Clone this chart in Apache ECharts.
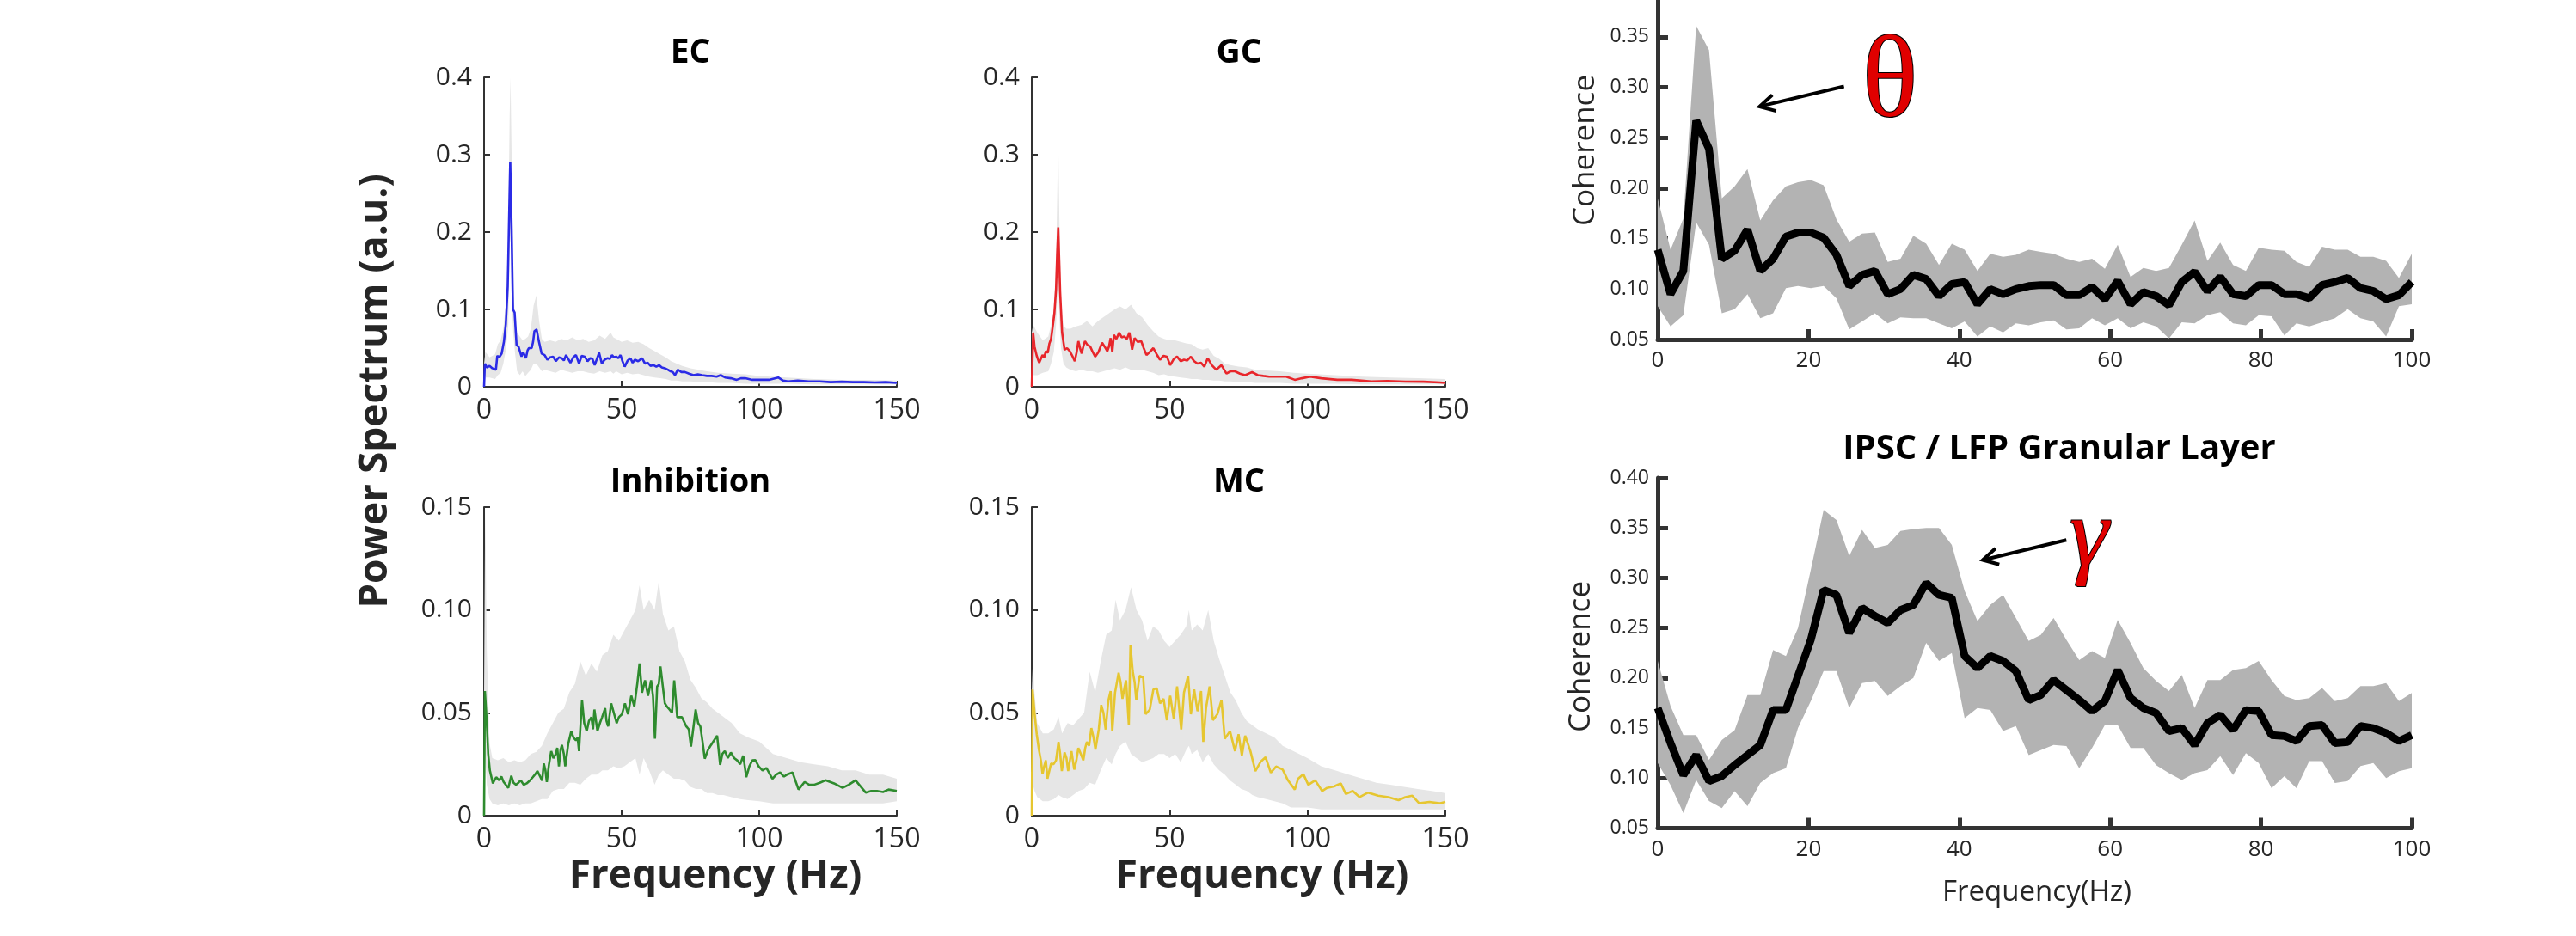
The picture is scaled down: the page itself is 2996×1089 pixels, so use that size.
<!DOCTYPE html>
<html>
<head>
<meta charset="utf-8">
<script src="https://cdn.jsdelivr.net/npm/echarts@6/dist/echarts.min.js"></script>
<style>html,body{margin:0;padding:0;background:#fff}#c{width:2996px;height:1089px}</style>
</head>
<body>
<div id="c"></div>
<script>
// ---------------- DATA ----------------
const spectrumTicksX = [0, 50, 100, 150];
const cohTicksX = [0, 20, 40, 60, 80, 100];

// EC
const ecFreq = [0,0.3,1,2,3,4.3,4.8,5.5,6.4,7.2,7.9,8.6,9.1,9.5,10,10.5,11.1,11.8,12.5,13.1,13.6,14.2,14.7,15.2,15.8,16.3,17.3,17.8,18.3,19.1,19.9,20.9,22,23,24,25.1,26.1,27.2,28.2,29,29.8,30.6,31.4,32.4,33.4,34.5,35.5,36.6,37.6,38.6,39.4,40.2,41,41.8,42.8,43.8,44.9,45.7,46.5,47.2,48,48.8,49.6,50.3,51.1,52.2,53.2,54,54.8,56,57.4,58.5,59.5,60.5,61.6,62.6,63.6,64.6,65.7,66.8,67.8,68.6,69.4,70.4,71.7,73,74.5,76.1,77.7,79.3,81,82.7,84.5,86,87.6,89.7,91.8,93.3,94.9,97.5,100.1,103.5,106.9,108.7,110.5,114,118,122,126,130,134,138,142,146,150];
const ecMean = [0,0.030,0.025,0.027,0.024,0.022,0.040,0.038,0.043,0.058,0.081,0.13,0.22,0.291,0.204,0.10,0.096,0.054,0.052,0.05,0.039,0.045,0.046,0.037,0.047,0.050,0.050,0.058,0.072,0.074,0.059,0.043,0.041,0.035,0.038,0.039,0.033,0.038,0.037,0.034,0.041,0.036,0.031,0.038,0.041,0.030,0.040,0.039,0.033,0.037,0.036,0.028,0.036,0.044,0.030,0.035,0.037,0.036,0.041,0.038,0.039,0.037,0.041,0.033,0.026,0.034,0.037,0.031,0.035,0.033,0.037,0.030,0.031,0.027,0.028,0.026,0.028,0.025,0.024,0.022,0.020,0.019,0.015,0.022,0.019,0.019,0.017,0.015,0.016,0.015,0.014,0.014,0.013,0.015,0.012,0.011,0.009,0.011,0.011,0.009,0.009,0.009,0.012,0.008,0.007,0.008,0.007,0.007,0.006,0.0065,0.006,0.006,0.0055,0.006,0.005];
const ecBandFreq = [0,0.5,2,4,5,6,7,8,8.8,9.3,9.6,10,10.6,11.2,12,13,14,15,16,17,18,19,20,21,22,24,26,28,30,32,34,36,38,40,42,44,46,47,48,50,52,54,56,58,60,62,64,66,68,70,72,75,78,81,85,90,95,100,110,120,130,140,150];
const ecUpper = [0.03,0.045,0.038,0.042,0.055,0.06,0.075,0.11,0.2,0.35,0.40,0.30,0.13,0.09,0.07,0.065,0.06,0.062,0.065,0.075,0.105,0.118,0.085,0.062,0.058,0.06,0.058,0.062,0.06,0.064,0.06,0.062,0.058,0.06,0.066,0.062,0.07,0.064,0.062,0.058,0.06,0.057,0.058,0.055,0.05,0.046,0.042,0.038,0.033,0.03,0.027,0.024,0.022,0.02,0.018,0.017,0.016,0.014,0.012,0.01,0.009,0.009,0.008];
const ecLower = [0,0.012,0.012,0.01,0.015,0.018,0.03,0.05,0.08,0.18,0.2,0.12,0.07,0.045,0.02,0.015,0.02,0.014,0.018,0.022,0.03,0.03,0.025,0.02,0.022,0.02,0.018,0.022,0.02,0.018,0.02,0.02,0.018,0.017,0.02,0.018,0.02,0.017,0.02,0.016,0.018,0.016,0.017,0.015,0.013,0.012,0.011,0.01,0.008,0.008,0.007,0.007,0.006,0.006,0.005,0.005,0.004,0.004,0.004,0.003,0.003,0.003,0.003];

// GC
const gcFreq = [0,0.5,1,1.8,2.7,3.3,3.9,4.5,5.1,5.8,6.4,7,7.6,8.2,8.8,9.2,9.6,10.3,11,11.9,12.8,13.8,14.7,15.6,16.3,16.9,17.5,18.1,18.7,19.3,20.2,21.2,22.1,23,24.2,25.5,26.4,27.4,28,28.6,29.2,29.8,30.7,31.7,32.6,33.5,34.5,35.4,36.4,37.3,38.5,39.7,40.6,41.6,42.8,44.1,45.3,46.5,47.8,49,50.2,51.5,52.7,54,55.2,56.4,57.7,58.9,60.1,61.4,62.6,63.8,65.3,66.9,68.8,70.6,72.1,73.7,75.5,77.4,79.9,82,84,86.1,89,92.3,95.4,98,100.9,105,110.8,116,123.2,129,135.5,142,148,150];
const gcMean = [0,0.070,0.052,0.04,0.031,0.036,0.041,0.038,0.046,0.044,0.056,0.062,0.078,0.095,0.126,0.17,0.206,0.122,0.070,0.048,0.05,0.046,0.04,0.033,0.045,0.059,0.05,0.043,0.052,0.059,0.054,0.052,0.045,0.039,0.045,0.057,0.052,0.046,0.052,0.063,0.045,0.067,0.062,0.070,0.064,0.065,0.062,0.070,0.048,0.063,0.058,0.059,0.05,0.041,0.045,0.05,0.042,0.035,0.04,0.039,0.028,0.036,0.039,0.033,0.035,0.034,0.039,0.033,0.030,0.031,0.026,0.037,0.028,0.022,0.028,0.017,0.02,0.020,0.017,0.015,0.019,0.015,0.014,0.013,0.013,0.013,0.009,0.011,0.013,0.011,0.009,0.009,0.007,0.0075,0.0067,0.0065,0.0056,0.005];
const gcBandFreq = [0,0.5,2,4,6,7,8,8.8,9.3,9.6,10,10.6,11.5,12.5,14,16,18,20,22,24,26,28,30,32,34,36,38,40,42,44,46,48,50,52,54,56,58,60,62,64,66,68,70,72,75,78,81,85,90,95,100,110,120,130,140,150];
const gcUpper = [0.07,0.08,0.07,0.06,0.065,0.08,0.1,0.16,0.26,0.318,0.22,0.11,0.08,0.075,0.075,0.078,0.08,0.085,0.078,0.085,0.09,0.095,0.1,0.104,0.1,0.106,0.095,0.09,0.08,0.072,0.065,0.062,0.06,0.06,0.058,0.056,0.055,0.05,0.048,0.05,0.04,0.036,0.03,0.028,0.026,0.025,0.022,0.021,0.02,0.018,0.017,0.015,0.013,0.012,0.011,0.01];
const gcLower = [0,0.015,0.015,0.018,0.02,0.03,0.045,0.08,0.12,0.144,0.09,0.05,0.03,0.025,0.022,0.02,0.022,0.02,0.02,0.018,0.02,0.022,0.024,0.022,0.025,0.022,0.022,0.022,0.02,0.018,0.015,0.016,0.014,0.013,0.012,0.011,0.01,0.01,0.009,0.009,0.008,0.008,0.007,0.007,0.006,0.006,0.005,0.005,0.005,0.004,0.004,0.004,0.003,0.003,0.003,0.003];

// Inhibition
const inFreq = [0,0.3,1,1.5,2.1,3.2,4.4,5.5,6.3,7.1,8.8,9.9,10.7,11.6,12.5,13.3,14.4,15.5,16.6,17.7,18.5,19.4,20.5,21.1,21.7,22.3,22.8,23.6,24.4,25.2,26.1,26.6,27.2,27.8,28.3,29.0,29.5,30.6,31.7,32.5,33.4,34.0,34.5,35.6,36.4,37.3,38.1,39,39.6,40.1,41.2,42.1,42.9,44,44.5,45.1,46.2,47.3,48.2,49,50.1,51.2,52.3,53.5,54.6,55.7,56.5,57.4,58.5,59.6,60.7,61.4,62.1,62.9,63.5,64.1,65.7,66.5,67.4,68.3,69.1,70.2,71.9,73.5,74.4,75.2,76.9,77.8,78.6,79.4,80.2,81.4,82.5,84.7,85.8,86.6,87.5,88.6,89.7,90.9,92,93.1,94.2,95.3,96.4,97.5,98.6,99.8,101.2,102.6,104.8,106.2,107.6,109,110.4,112.1,114.3,116.5,118.2,119.9,122,124.1,127.2,130.3,132.5,135,138.7,140.7,142.8,145,147,150];
const inMean = [0,0.0606,0.045,0.030,0.022,0.0157,0.0187,0.0172,0.019,0.0164,0.0135,0.0194,0.016,0.015,0.016,0.0172,0.015,0.0157,0.017,0.0187,0.02,0.0217,0.0187,0.017,0.0254,0.022,0.0164,0.025,0.0314,0.028,0.030,0.033,0.024,0.032,0.0344,0.03,0.024,0.035,0.0411,0.038,0.0366,0.038,0.0314,0.0561,0.045,0.0411,0.046,0.0479,0.042,0.0516,0.0411,0.045,0.0479,0.0523,0.046,0.0434,0.0546,0.0493,0.045,0.0479,0.0493,0.0546,0.0493,0.0583,0.0531,0.0643,0.074,0.0598,0.0658,0.0583,0.0658,0.058,0.0374,0.0628,0.064,0.0725,0.0546,0.053,0.0516,0.05,0.0658,0.0479,0.0479,0.0434,0.042,0.0336,0.0516,0.045,0.0434,0.036,0.0277,0.032,0.0344,0.0389,0.0247,0.03,0.0314,0.028,0.0307,0.028,0.0269,0.025,0.0292,0.0187,0.024,0.0269,0.027,0.024,0.022,0.0232,0.0179,0.02,0.021,0.019,0.0202,0.021,0.0127,0.0164,0.015,0.015,0.016,0.0172,0.0157,0.0135,0.015,0.0172,0.0112,0.012,0.012,0.0115,0.0127,0.012];
const inBandFreq = [0,0.4,1,2,3,5,7,9,11,13,15,17,19,21,23,25,27,29,31,33,35,37,39,41,43,45,47,49,51,53,55,56.5,58,60,62,63.5,65,67,69,71,73,75,77,79,81,83,85,87,90,93,96,100,105,110,115,120,125,130,135,140,145,150];
const inUpper = [0.06,0.15,0.08,0.035,0.028,0.027,0.028,0.026,0.027,0.026,0.027,0.03,0.031,0.034,0.04,0.045,0.05,0.052,0.06,0.064,0.075,0.068,0.074,0.07,0.078,0.08,0.088,0.085,0.09,0.095,0.1,0.112,0.1,0.105,0.1,0.114,0.098,0.09,0.092,0.08,0.075,0.066,0.062,0.057,0.055,0.052,0.05,0.048,0.045,0.04,0.038,0.036,0.03,0.028,0.026,0.025,0.024,0.022,0.022,0.02,0.02,0.018];
const inLower = [0,0.03,0.015,0.008,0.006,0.005,0.006,0.005,0.006,0.005,0.006,0.006,0.007,0.008,0.008,0.012,0.013,0.013,0.016,0.016,0.015,0.018,0.02,0.02,0.022,0.022,0.024,0.023,0.024,0.026,0.028,0.02,0.028,0.022,0.015,0.02,0.022,0.02,0.018,0.018,0.017,0.014,0.013,0.013,0.011,0.011,0.01,0.01,0.009,0.008,0.0075,0.007,0.006,0.006,0.006,0.006,0.006,0.006,0.006,0.006,0.006,0.007];

// MC
const mcFreq = [0,0.3,1,1.8,2.6,3.3,3.9,4.5,5.1,5.7,6.4,7,7.9,8.8,9.7,10.3,10.9,11.9,12.6,13.2,14.4,15.4,16.2,16.9,17.8,18.7,19.4,20,20.8,21.6,22.4,23.1,24.3,25.2,26,26.8,27.8,28.6,29.2,30.2,31.5,32.2,32.9,33.6,34.2,35.2,35.8,36.6,37.3,37.9,39.1,40.4,41.3,42.8,44.1,45.3,46.5,47.8,49,50.2,51.5,52.7,54.2,55.2,56.7,57.7,58.9,60.1,61.4,62.2,63.2,64.5,65.7,67.3,68.8,70,71.9,73.7,75,76.2,77.4,79.3,81.1,83,84.8,86.7,88.6,91,92.9,95.4,96.6,98.5,100.3,102.8,105.3,107.1,109.6,112.1,113.9,116.4,118.9,122,125.6,129.4,133,135.5,138,140.5,144.2,147.9,150];
const mcMean = [0,0.0613,0.05,0.0396,0.032,0.0269,0.0202,0.024,0.0269,0.018,0.022,0.0254,0.025,0.0269,0.0359,0.03,0.0217,0.0307,0.028,0.0217,0.0314,0.0224,0.027,0.0329,0.03,0.0269,0.033,0.0359,0.034,0.0426,0.038,0.0322,0.0419,0.0538,0.05,0.0419,0.0561,0.0606,0.0411,0.0598,0.0695,0.065,0.0568,0.062,0.0658,0.0441,0.083,0.0703,0.065,0.0561,0.068,0.0673,0.0493,0.0516,0.0613,0.062,0.0546,0.0568,0.0464,0.0583,0.0471,0.0628,0.0419,0.0598,0.068,0.0493,0.0613,0.0508,0.0606,0.0359,0.0523,0.0628,0.0464,0.0493,0.0561,0.0374,0.0411,0.0314,0.0396,0.0292,0.0389,0.0314,0.0217,0.0262,0.0284,0.0209,0.0239,0.0224,0.0172,0.0127,0.018,0.0202,0.015,0.0172,0.012,0.0135,0.0142,0.0157,0.0105,0.012,0.009,0.0112,0.0097,0.009,0.0075,0.009,0.0097,0.006,0.0067,0.006,0.0067];
const mcBandFreq = [0,0.4,1,2,4,6,8,9.7,11,13,15,17,19,21,23,25,27,29,30.4,32,34,36,38,40,42,44,46,48,50,52,54,56,57,58,60,62,64,66,68,70,72,74,76,78,80,82,85,88,91,94,97,100,105,110,115,120,125,130,135,140,145,150];
const mcUpper = [0.06,0.075,0.06,0.045,0.04,0.04,0.042,0.048,0.04,0.045,0.044,0.047,0.05,0.07,0.06,0.075,0.088,0.09,0.105,0.095,0.1,0.111,0.1,0.095,0.085,0.092,0.09,0.085,0.082,0.085,0.088,0.092,0.1,0.09,0.093,0.09,0.1,0.085,0.076,0.068,0.06,0.056,0.05,0.046,0.044,0.042,0.04,0.038,0.034,0.032,0.03,0.028,0.024,0.022,0.02,0.018,0.016,0.015,0.014,0.013,0.012,0.011];
const mcLower = [0,0.015,0.012,0.009,0.007,0.007,0.008,0.01,0.009,0.008,0.01,0.012,0.013,0.016,0.015,0.022,0.028,0.025,0.03,0.034,0.036,0.03,0.028,0.026,0.027,0.028,0.03,0.03,0.028,0.03,0.026,0.032,0.034,0.03,0.032,0.026,0.03,0.025,0.022,0.02,0.017,0.015,0.013,0.012,0.01,0.009,0.008,0.007,0.006,0.004,0.004,0.004,0.003,0.003,0.003,0.003,0.003,0.003,0.003,0.003,0.003,0.003];

// Coherence (both panels share frequency sampling)
const cohFreq = [0,1.7,3.4,5.1,6.8,8.5,10.2,11.9,13.6,15.3,17,18.6,20.3,22,23.7,25.4,27.1,28.8,30.5,32.2,33.9,35.6,37.3,39,40.7,42.4,44.1,45.8,47.5,49.2,50.8,52.5,54.2,55.9,57.6,59.3,61,62.7,64.4,66.1,67.8,69.5,71.2,72.9,74.6,76.3,78,79.7,81.4,83.1,84.7,86.4,88.1,89.8,91.5,93.2,94.9,96.6,98.3,100];
const thetaMean = [0.139,0.095,0.118,0.267,0.239,0.130,0.138,0.159,0.118,0.130,0.152,0.156,0.156,0.151,0.134,0.103,0.114,0.118,0.095,0.100,0.114,0.110,0.093,0.105,0.107,0.085,0.100,0.095,0.100,0.103,0.104,0.104,0.094,0.094,0.102,0.090,0.108,0.085,0.097,0.093,0.084,0.107,0.117,0.098,0.112,0.095,0.093,0.104,0.104,0.095,0.095,0.091,0.104,0.107,0.111,0.101,0.098,0.090,0.094,0.107];
const thetaUpper = [0.190,0.139,0.170,0.361,0.337,0.190,0.202,0.219,0.168,0.188,0.202,0.206,0.208,0.203,0.169,0.147,0.155,0.156,0.127,0.130,0.153,0.145,0.124,0.145,0.139,0.118,0.135,0.132,0.134,0.139,0.137,0.135,0.130,0.127,0.130,0.120,0.144,0.112,0.121,0.118,0.121,0.144,0.168,0.128,0.146,0.124,0.118,0.141,0.139,0.138,0.127,0.122,0.142,0.139,0.139,0.132,0.132,0.128,0.111,0.135];
const thetaLower = [0.083,0.063,0.074,0.166,0.144,0.076,0.080,0.095,0.071,0.076,0.101,0.103,0.101,0.103,0.091,0.060,0.068,0.076,0.066,0.072,0.071,0.071,0.066,0.061,0.068,0.053,0.063,0.057,0.066,0.064,0.067,0.069,0.060,0.061,0.071,0.064,0.071,0.061,0.067,0.063,0.051,0.067,0.066,0.074,0.077,0.066,0.064,0.074,0.073,0.054,0.066,0.063,0.067,0.071,0.080,0.071,0.068,0.053,0.083,0.085];
const gammaMean = [0.170,0.135,0.103,0.123,0.097,0.102,0.113,0.123,0.133,0.168,0.168,0.202,0.238,0.288,0.283,0.245,0.270,0.262,0.255,0.268,0.273,0.295,0.283,0.280,0.222,0.210,0.222,0.217,0.207,0.178,0.183,0.198,0.188,0.178,0.167,0.177,0.208,0.180,0.170,0.165,0.147,0.150,0.133,0.155,0.163,0.148,0.168,0.167,0.143,0.142,0.137,0.152,0.153,0.135,0.136,0.152,0.150,0.145,0.137,0.143];
const gammaUpper = [0.217,0.172,0.143,0.143,0.118,0.138,0.148,0.183,0.183,0.228,0.222,0.250,0.308,0.368,0.358,0.322,0.348,0.330,0.333,0.347,0.349,0.350,0.350,0.333,0.287,0.257,0.273,0.283,0.260,0.237,0.243,0.260,0.238,0.218,0.227,0.220,0.258,0.235,0.210,0.197,0.187,0.203,0.170,0.198,0.198,0.208,0.210,0.217,0.198,0.182,0.178,0.180,0.190,0.177,0.180,0.192,0.192,0.195,0.177,0.185];
const gammaLower = [0.115,0.093,0.065,0.098,0.077,0.070,0.087,0.072,0.095,0.105,0.110,0.150,0.177,0.207,0.207,0.170,0.195,0.197,0.182,0.192,0.200,0.235,0.217,0.225,0.160,0.170,0.168,0.147,0.152,0.123,0.128,0.133,0.132,0.110,0.130,0.153,0.153,0.130,0.130,0.113,0.105,0.098,0.105,0.108,0.122,0.103,0.125,0.115,0.090,0.102,0.090,0.117,0.117,0.095,0.097,0.112,0.115,0.100,0.107,0.110];

// annotation anchors (data coordinates)
const thetaArrow = {from:[24.7, 0.301], to:[13.5, 0.281], label:[30.8, 0.302]};
const gammaArrow = {from:[54.2, 0.338], to:[43.1, 0.318], label:[57.2, 0.338]};

// ---------------- CHART ----------------
const chart = echarts.init(document.getElementById('c'), null, {renderer:'canvas', width:2996, height:1089});
const zip = (a, b) => a.map((x, i) => [x, b[i]]);
const FONT = 'Open Sans';
const AX = '#333';
const TXT = '#262626';

const grids = [
  {left:563, top:90, width:480, height:360},
  {left:1200, top:90, width:481, height:360},
  {left:563, top:590, width:480, height:359},
  {left:1200, top:590, width:481, height:359},
  {left:1928, top:0, width:877, height:395},
  {left:1928, top:556, width:877, height:407.5}
];

function specX(gi){
  return {type:'value', gridIndex:gi, min:0, max:150, interval:50,
    axisLine:{show:true, onZero:false, lineStyle:{color:AX, width:2}},
    axisTick:{show:true, inside:true, length:7, lineStyle:{color:AX, width:2}},
    axisLabel:{fontSize:32, color:TXT, fontFamily:FONT, margin:12},
    splitLine:{show:false}};
}
function specY(gi, max, interval, dec){
  return {type:'value', gridIndex:gi, min:0, max:max, interval:interval,
    axisLine:{show:true, onZero:false, lineStyle:{color:AX, width:2}},
    axisTick:{show:true, inside:true, length:7, lineStyle:{color:AX, width:2}},
    axisLabel:{fontSize:30, color:TXT, fontFamily:FONT, margin:14,
      formatter: v => (Math.abs(v) < 1e-9 ? '0' : v.toFixed(dec))},
    splitLine:{show:false}};
}
function cohX(gi){
  return {type:'value', gridIndex:gi, min:0, max:100, interval:20,
    axisLine:{show:true, onZero:false, lineStyle:{color:AX, width:5}},
    axisTick:{show:true, inside:true, length:12, lineStyle:{color:AX, width:5}},
    axisLabel:{fontSize:26, color:TXT, fontFamily:FONT, margin:12},
    splitLine:{show:false}};
}
function cohY(gi, max){
  return {type:'value', gridIndex:gi, min:0.05, max:max, interval:0.05,
    axisLine:{show:true, onZero:false, lineStyle:{color:AX, width:5}},
    axisTick:{show:true, inside:true, length:12, lineStyle:{color:AX, width:5}},
    axisLabel:{fontSize:23, color:TXT, fontFamily:FONT, margin:10, showMaxLabel:false,
      formatter: v => (Math.abs(v / 0.05 - Math.round(v / 0.05)) < 1e-6 ? v.toFixed(2) : '')},
    splitLine:{show:false}};
}

function band(gi, freq, up, lo, color){
  return {type:'custom', xAxisIndex:gi, yAxisIndex:gi, silent:true, z:1, clip:true,
    data:[[freq[0], lo[0]]],
    renderItem: function(params, api){
      const pts = [];
      for (let i = 0; i < freq.length; i++) pts.push(api.coord([freq[i], up[i]]));
      for (let i = freq.length - 1; i >= 0; i--) pts.push(api.coord([freq[i], lo[i]]));
      return {type:'polygon', shape:{points:pts}, style:{fill:color, stroke:null}};
    }};
}
function line(gi, freq, vals, color, width){
  return {type:'line', xAxisIndex:gi, yAxisIndex:gi, data:zip(freq, vals), showSymbol:false, symbol:'none',
    lineStyle:{color:color, width:width}, z:3, silent:true};
}

const BAND = '#e6e6e6';
const option = {
  animation:false,
  backgroundColor:'#ffffff',
  grid: grids,
  xAxis: [specX(0), specX(1), specX(2), specX(3), cohX(4), cohX(5)],
  yAxis: [specY(0,0.4,0.1,1), specY(1,0.4,0.1,1), specY(2,0.15,0.05,2), specY(3,0.15,0.05,2), cohY(4, 0.3866), cohY(5, 0.40)],
  series: [
    band(0, ecBandFreq, ecUpper, ecLower, BAND), line(0, ecFreq, ecMean, '#2b2be6', 2.6),
    band(1, gcBandFreq, gcUpper, gcLower, BAND), line(1, gcFreq, gcMean, '#e8262b', 2.6),
    band(2, inBandFreq, inUpper, inLower, BAND), line(2, inFreq, inMean, '#2e8b2e', 2.6),
    band(3, mcBandFreq, mcUpper, mcLower, BAND), line(3, mcFreq, mcMean, '#e6c630', 2.6),
    band(4, cohFreq, thetaUpper, thetaLower, '#b3b3b3'), line(4, cohFreq, thetaMean, '#000', 9),
    band(5, cohFreq, gammaUpper, gammaLower, '#b3b3b3'), line(5, cohFreq, gammaMean, '#000', 9)
  ]
};
chart.setOption(option);
// bottom panel keeps its 0.40 label
chart.setOption({yAxis:[{},{},{},{},{},{axisLabel:{showMaxLabel:true}}]});

function txt(x, y, text, size, weight, color, rot, family){
  return {type:'text', x:x, y:y, rotation: rot || 0, z:10, silent:true,
    style:{text:text, fill:color, font: weight + ' ' + size + 'px "' + (family || FONT) + '"', textAlign:'center', textVerticalAlign:'middle'}};
}
function arrow(gi, a){
  const p0 = chart.convertToPixel({gridIndex:gi}, a.from);
  const p1 = chart.convertToPixel({gridIndex:gi}, a.to);
  const ang = Math.atan2(p0[1]-p1[1], p0[0]-p1[0]);
  const L = 20, s = 0.5;
  const h1 = [p1[0] + L*Math.cos(ang+s), p1[1] + L*Math.sin(ang+s)];
  const h2 = [p1[0] + L*Math.cos(ang-s), p1[1] + L*Math.sin(ang-s)];
  return [
    {type:'line', z:10, silent:true, shape:{x1:p0[0], y1:p0[1], x2:p1[0], y2:p1[1]}, style:{stroke:'#000', lineWidth:4}},
    {type:'polyline', z:10, silent:true, shape:{points:[h1, p1, h2]}, style:{stroke:'#000', lineWidth:4, fill:null}}
  ];
}
const thP = chart.convertToPixel({gridIndex:4}, thetaArrow.label);
const gaP = chart.convertToPixel({gridIndex:5}, gammaArrow.label);
const greek = (p, ch, size, style) => ({type:'text', x:p[0], y:p[1], z:11, silent:true,
  style:{text:ch, fill:'#e00000', stroke:'#000', lineWidth:2, font:style + ' ' + size + 'px "Liberation Serif"', textAlign:'center', textVerticalAlign:'middle'}});

chart.setOption({graphic: [
  txt(803, 62, 'EC', 39, 'bold', '#000'),
  txt(1441, 62, 'GC', 39, 'bold', '#000'),
  txt(803, 561, 'Inhibition', 38, 'bold', '#000'),
  txt(1441, 561, 'MC', 38, 'bold', '#000'),
  txt(437, 455, 'Power Spectrum (a.u.)', 46, 'bold', TXT, Math.PI/2),
  txt(832, 1020, 'Frequency (Hz)', 46, 'bold', TXT),
  txt(1468, 1020, 'Frequency (Hz)', 46, 'bold', TXT),
  txt(1844, 175, 'Coherence', 35, 'normal', TXT, Math.PI/2),
  txt(1839, 764, 'Coherence', 35, 'normal', TXT, Math.PI/2),
  txt(2395, 523, 'IPSC / LFP Granular Layer', 40, 'bold', '#000'),
  txt(2369, 1039, 'Frequency(Hz)', 33, 'normal', TXT),
  ...arrow(4, thetaArrow), ...arrow(5, gammaArrow),
  greek(thP, 'θ', 135, 'normal'), greek(gaP, 'γ', 115, 'italic')
]});
</script>
</body>
</html>
